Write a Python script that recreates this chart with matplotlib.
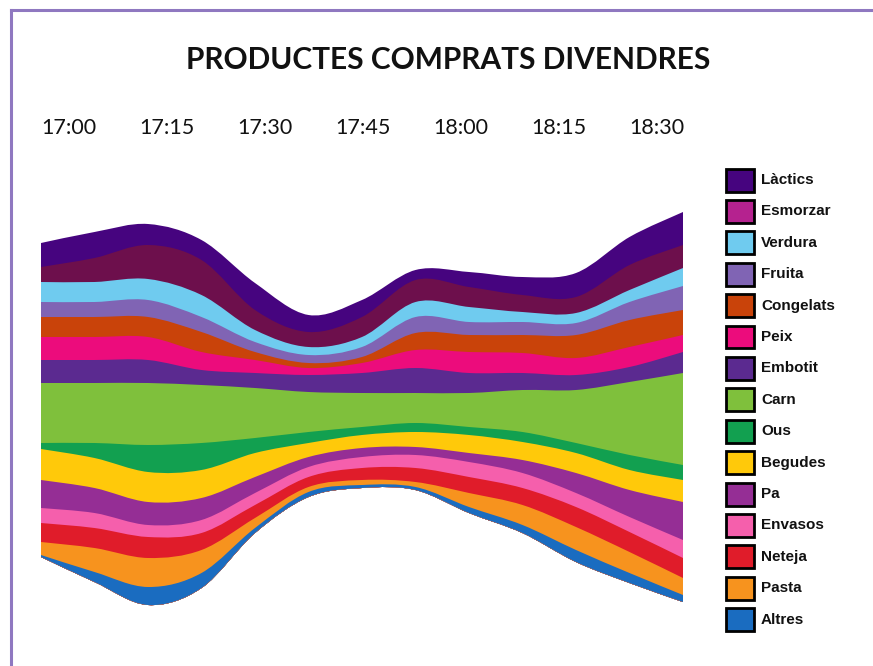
import numpy as np
import matplotlib
matplotlib.use("Agg")
import matplotlib.pyplot as plt
from matplotlib.path import Path
from matplotlib.patches import PathPatch, Rectangle
from matplotlib.lines import Line2D

# minutes after 17:00 (readings every 7.5 min)
minutes = [0, 7.5, 15, 22.5, 30, 37.5, 45, 52.5, 60, 67.5, 75, 82.5, 90]
hours = ["17:00", "17:15", "17:30", "17:45", "18:00", "18:15", "18:30"]
hour_minutes = [0, 15, 30, 45, 60, 75, 90]

categories = ["Làctics", "Esmorzar", "Verdura", "Fruita", "Congelats", "Peix",
              "Embotit", "Carn", "Ous", "Begudes", "Pa", "Envasos", "Neteja",
              "Pasta", "Altres"]

lactics   = [24, 26, 21, 20, 27, 17, 17, 10, 15, 18, 24, 28, 33]
esmorzar  = [15, 24, 34, 35, 20, 15, 20, 22, 20, 17, 16, 25, 23]
verdura   = [20, 20, 21, 22, 12, 8, 10, 15, 15, 10, 10, 12, 18]
fruita    = [15, 15, 17, 15, 10, 8, 10, 16, 13, 13, 12, 18, 24]
congelats = [20, 20, 20, 20, 8, 5, 6, 17, 17, 18, 23, 27, 25]
peix      = [23, 23, 23, 18, 13, 7, 10, 18, 21, 20, 17, 20, 17]
embotit   = [23, 23, 23, 15, 15, 17, 20, 25, 20, 17, 15, 15, 21]
carn      = [60, 60, 62, 58, 50, 40, 34, 30, 34, 42, 53, 73, 92]
ous       = [6, 15, 27, 27, 15, 11, 8, 9, 8, 10, 10, 15, 15]
begudes   = [31, 30, 30, 28, 24, 14, 13, 15, 18, 18, 20, 20, 22]
pa        = [28, 25, 23, 22, 16, 10, 9, 8, 9, 13, 20, 27, 38]
envasos   = [15, 15, 12, 13, 12, 10, 11, 13, 15, 15, 14, 15, 18]
neteja    = [19, 20, 21, 17, 13, 10, 12, 14, 16, 17, 20, 20, 20]
pasta     = [13, 24, 29, 23, 10, 5, 5, 5, 14, 20, 23, 21, 17]
altres    = [2, 10, 18, 15, 5, 5, 3, 3, 6, 8, 12, 10, 7]
# invisible spacer series under the stream
offset    = [63, 38, 15, 32, 87, 123, 132, 130, 107, 87, 58, 37, 18]

series = [lactics, esmorzar, verdura, fruita, congelats, peix, embotit, carn,
          ous, begudes, pa, envasos, neteja, pasta, altres]

colors = ["#46047f", "#6d0f4c", "#6fcbef", "#8064b4", "#c9430a", "#ec0c7c",
          "#5b2a90", "#7fc03c", "#12a050", "#ffc90a", "#952e95", "#f55fac",
          "#e01c2a", "#f7931e", "#1a6cc0"]
legend_colors = list(colors)
legend_colors[1] = "#b5228f"


def curve(xs, ys):
    # smooth cubic segments through the points
    pts = []
    n = len(xs)
    for i in range(n - 1):
        a = max(i - 1, 0)
        d = min(i + 2, n - 1)
        c1 = (xs[i] + (xs[i + 1] - xs[a]) / 6, ys[i] + (ys[i + 1] - ys[a]) / 6)
        c2 = (xs[i + 1] - (xs[d] - xs[i]) / 6, ys[i + 1] - (ys[d] - ys[i]) / 6)
        pts += [c1, c2, (xs[i + 1], ys[i + 1])]
    return pts


def band(ax, lower, upper, color):
    x = list(minutes)
    verts = [(x[0], upper[0])] + curve(x, list(upper))
    codes = [Path.MOVETO] + [Path.CURVE4] * (len(verts) - 1)
    verts.append((x[-1], lower[-1]))
    codes.append(Path.LINETO)
    back = curve(x[::-1], list(lower)[::-1])
    verts += back
    codes += [Path.CURVE4] * len(back)
    verts.append((x[0], lower[0]))
    codes.append(Path.CLOSEPOLY)
    ax.add_patch(PathPatch(Path(verts, codes), facecolor=color, lw=0))


fig = plt.figure(figsize=(8.73, 6.66), dpi=100)
fig.patch.set_facecolor("white")

ax = fig.add_axes([41 / 873, 46 / 666, 642 / 873, 420 / 666])
ax.set_xlim(0, 90)
ax.set_ylim(0, 420)
ax.axis("off")

bottom_up = np.array(series[::-1], dtype=float)
tops = np.asarray(offset, dtype=float) + np.cumsum(bottom_up, axis=0)
cols_bu = colors[::-1]
for k in reversed(range(len(bottom_up))):
    band(ax, offset, tops[k], cols_bu[k])

# time labels on top
ax_t = fig.add_axes([69 / 873, 1 - 118 / 666, 588 / 873, 0.0001])
ax_t.set_xlim(0, 90)
ax_t.set_xticks(hour_minutes)
ax_t.set_xticklabels(hours, fontfamily="Lato", fontsize=15.5, color="#111111")
ax_t.tick_params(axis="x", length=0, pad=0, labelbottom=True)
ax_t.set_yticks([])
for s in ax_t.spines.values():
    s.set_visible(False)
ax_t.patch.set_visible(False)

fig.text(448 / 873, 1 - 60 / 666, "PRODUCTES COMPRATS DIVENDRES",
         ha="center", va="center", fontsize=21.5, fontweight="bold",
         fontfamily="Lato", color="#111111")

# legend
for i, (name, col) in enumerate(zip(categories, legend_colors)):
    yc = 1 - (180 + i * 31.4) / 666
    fig.add_artist(Rectangle((726 / 873, yc - 11.5 / 666), 28 / 873, 23 / 666,
                             transform=fig.transFigure, facecolor=col,
                             edgecolor="black", lw=2))
    fig.text(761 / 873, yc, name, fontsize=11, fontweight="bold",
             fontfamily="Liberation Sans", va="center", color="#111111")

# frame
fig.add_artist(Line2D([11 / 873, 11 / 873], [0, 1 - 9.5 / 666],
                      transform=fig.transFigure, color="#8f78c0", lw=2.2))
fig.add_artist(Line2D([11 / 873, 1], [1 - 9.5 / 666, 1 - 9.5 / 666],
                      transform=fig.transFigure, color="#8f78c0", lw=2.2))

fig.savefig("out.png", dpi=100)
